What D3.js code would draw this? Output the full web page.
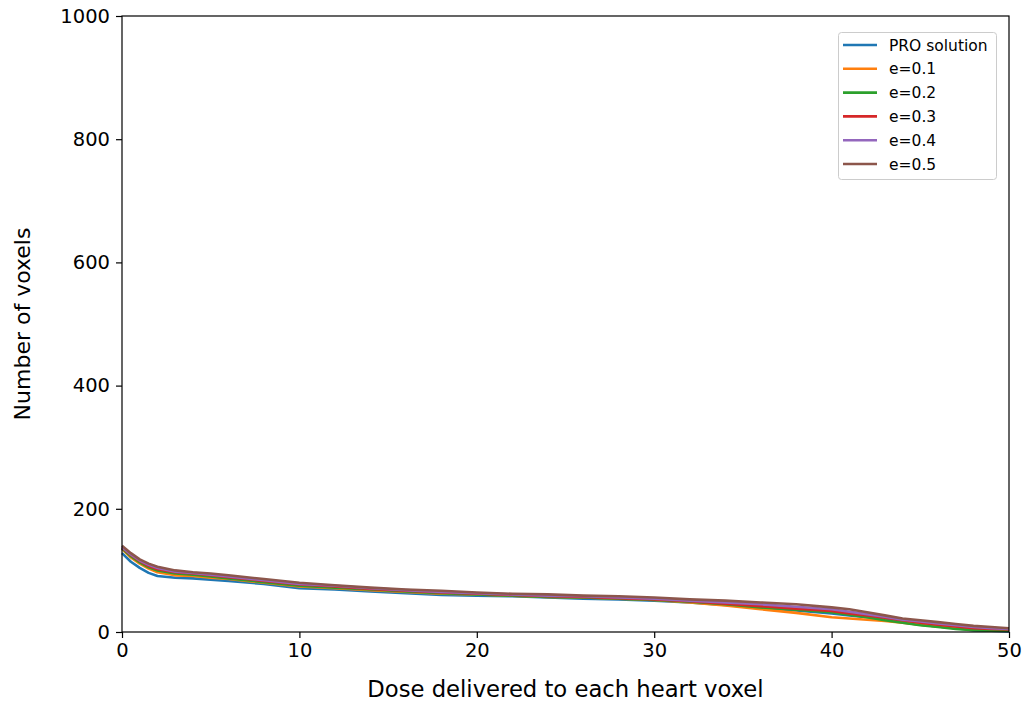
<!DOCTYPE html>
<html>
<head>
<meta charset="utf-8">
<script src="https://cdn.jsdelivr.net/npm/d3@7"></script>
<style>
  html, body { margin: 0; padding: 0; background: #fff; }
  svg { display: block; font-family: "DejaVu Sans", sans-serif; }
</style>
</head>
<body>
<svg id="chart" width="1023" height="704"></svg>
<script>
// Dose values (x) shared by every curve
const doses = [0, 0.5, 1, 1.5, 2, 3, 4, 5, 6, 8, 10, 12, 14, 16, 18, 20, 22, 24, 26, 28,
               30, 32, 34, 36, 38, 40, 41, 42, 43, 44, 45, 46, 47, 48, 49, 50];

// Number of heart voxels receiving at least each dose
const proSolution = [128, 114, 104, 96, 91, 88, 87, 85, 83, 78, 71, 69, 66, 63, 60, 59, 58, 56, 54, 53,
                     51, 48, 44, 39, 35, 30, 27, 24, 20, 16, 12, 9, 6, 3, 2, 1];
const e01 = [135, 121, 111, 103, 97, 92, 91, 88, 86, 80, 74, 71, 68, 65, 62, 61, 59, 57, 56, 54,
             52, 48, 43, 37, 31, 24, 22, 20, 18, 15, 12, 9, 6, 4, 3, 2];
const e02 = [136, 123, 113, 105, 100, 95, 93, 90, 87, 81, 75, 72, 69, 66, 63, 61, 59, 57, 56, 54,
             52, 49, 45, 40, 36, 32, 28, 24, 19, 15, 11, 8, 5, 3, 2, 2];
const e03 = [137, 125, 115, 107, 102, 97, 95, 92, 89, 83, 77, 74, 70, 67, 64, 62, 60, 58, 57, 55,
             53, 50, 46, 42, 38, 34, 30, 27, 23, 19, 15, 12, 9, 6, 5, 4];
const e04 = [138, 126, 116, 109, 104, 98, 96, 93, 90, 84, 78, 75, 71, 68, 65, 63, 61, 59, 58, 56,
             54, 51, 48, 45, 41, 37, 33, 29, 25, 20, 17, 14, 11, 8, 6, 5];
const e05 = [140, 128, 118, 111, 106, 100, 97, 95, 92, 86, 80, 76, 72, 69, 67, 64, 62, 61, 59, 58,
             56, 53, 51, 48, 45, 40, 37, 32, 27, 22, 19, 16, 13, 10, 8, 6];

const seriesNames = ["PRO solution", "e=0.1", "e=0.2", "e=0.3", "e=0.4", "e=0.5"];
const seriesValues = [proSolution, e01, e02, e03, e04, e05];
const colors = ["#1f77b4", "#ff7f0e", "#2ca02c", "#d62728", "#9467bd", "#8c564b"];

const xTicks = [0, 10, 20, 30, 40, 50];
const yTicks = [0, 200, 400, 600, 800, 1000];

const margin = { left: 122, right: 14, top: 16, bottom: 72 };
const W = 1023, H = 704;

const svg = d3.select("#chart");

const x = d3.scaleLinear().domain([0, 50]).range([margin.left, W - margin.right]);
const y = d3.scaleLinear().domain([0, 1000]).range([H - margin.bottom, margin.top]);

// Curves, first series drawn underneath
const line = d3.line()
  .x((d, i) => x(doses[i]))
  .y(d => y(d));

const curves = svg.append("g");
seriesValues.forEach((vals, k) => {
  curves.append("path")
    .attr("d", line(vals))
    .attr("fill", "none")
    .attr("stroke", colors[k])
    .attr("stroke-width", 2.6)
    .attr("stroke-linejoin", "round");
});

// Axes
const xAxis = svg.append("g")
  .attr("transform", `translate(0,${y(0)})`)
  .call(d3.axisBottom(x).tickValues(xTicks).tickSize(6).tickPadding(5).tickFormat(d3.format("d")));
const yAxis = svg.append("g")
  .attr("transform", `translate(${x(0)},0)`)
  .call(d3.axisLeft(y).tickValues(yTicks).tickSize(6).tickPadding(6).tickFormat(d3.format("d")));

[xAxis, yAxis].forEach(g => {
  g.select(".domain").remove();
  g.selectAll("line").attr("stroke", "#000").attr("stroke-width", 1.2);
  g.selectAll("text").attr("fill", "#000").style("font-size", "19.5px").style("font-family", "DejaVu Sans");
});

// Frame
svg.append("rect")
  .attr("x", x(0)).attr("y", y(1000))
  .attr("width", x(50) - x(0)).attr("height", y(0) - y(1000))
  .attr("fill", "none").attr("stroke", "#000").attr("stroke-width", 1.2);

// Axis titles
svg.append("text")
  .attr("x", (x(0) + x(50)) / 2).attr("y", 697)
  .attr("text-anchor", "middle")
  .style("font-size", "22.7px")
  .text("Dose delivered to each heart voxel");

svg.append("text")
  .attr("transform", `translate(30,${(y(0) + y(1000)) / 2}) rotate(-90)`)
  .attr("text-anchor", "middle")
  .style("font-size", "22px")
  .text("Number of voxels");

// Legend
const legend = svg.append("g");
legend.append("rect")
  .attr("x", 838.5).attr("y", 32.5).attr("width", 158).attr("height", 147)
  .attr("rx", 3).attr("fill", "#fff").attr("stroke", "#ccc").attr("stroke-width", 1);
seriesNames.forEach((name, k) => {
  const yy = 45 + k * 23.8;
  legend.append("line")
    .attr("x1", 843).attr("x2", 877).attr("y1", yy).attr("y2", yy)
    .attr("stroke", colors[k]).attr("stroke-width", 2.6);
  legend.append("text")
    .attr("x", 889).attr("y", yy + 5.5)
    .style("font-size", "15.5px")
    .attr("fill", "#000")
    .text(name);
});
</script>
</body>
</html>
